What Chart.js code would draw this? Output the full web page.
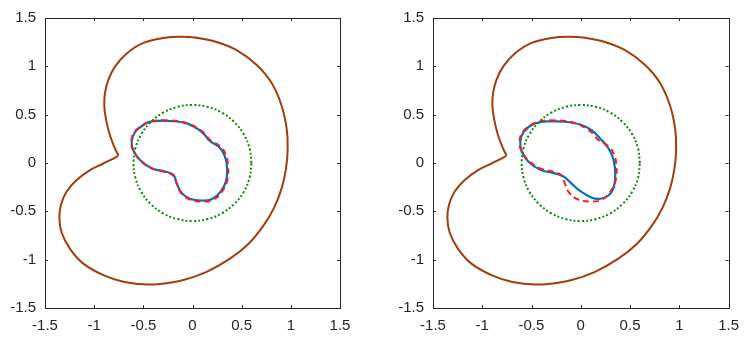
<!DOCTYPE html>
<html>
<head>
<meta charset="utf-8">
<script src="https://cdn.jsdelivr.net/npm/chart.js@4.4.1/dist/chart.umd.min.js"></script>
<style>
  html, body { margin: 0; padding: 0; background: #fff; }
  #wrap { position: relative; width: 748px; height: 349px; }
  canvas { position: absolute; top: 0; }
  #left { left: 0; }
  #right { left: 374px; }
</style>
</head>
<body>
<div id="wrap">
  <canvas id="left" width="374" height="349"></canvas>
  <canvas id="right" width="374" height="349"></canvas>
</div>
<script>
// tick values shared by both axes
const tickValues = [-1.5, -1, -0.5, 0, 0.5, 1, 1.5];

// outer kidney-shaped curve (same in both panels)
const outerCurve = [
  [-0.754, 0.08], [-0.788, 0.148], [-0.839, 0.284], [-0.88, 0.454], [-0.897, 0.59],
  [-0.89, 0.725], [-0.856, 0.861], [-0.788, 0.997], [-0.669, 1.133], [-0.5, 1.242],
  [-0.297, 1.293], [-0.127, 1.306], [0.042, 1.296], [0.246, 1.252], [0.449, 1.167],
  [0.653, 1.014], [0.805, 0.827], [0.907, 0.59], [0.958, 0.352], [0.968, 0.148],
  [0.951, -0.056], [0.907, -0.26], [0.829, -0.464], [0.72, -0.651], [0.568, -0.838],
  [0.381, -0.99], [0.144, -1.126], [-0.093, -1.211], [-0.331, -1.252], [-0.5, -1.255],
  [-0.703, -1.228], [-0.907, -1.16], [-1.11, -1.041], [-1.246, -0.888], [-1.331, -0.719],
  [-1.354, -0.566], [-1.337, -0.43], [-1.28, -0.294], [-1.178, -0.175], [-1.042, -0.073],
  [-0.907, -0.005], [-0.805, 0.046], [-0.764, 0.07], [-0.754, 0.08]
];

// dotted circle, radius 0.6
const circle = [
  [0.6, 0], [0.58, 0.155], [0.52, 0.3], [0.424, 0.424], [0.3, 0.52], [0.155, 0.58],
  [0, 0.6], [-0.155, 0.58], [-0.3, 0.52], [-0.424, 0.424], [-0.52, 0.3], [-0.58, 0.155],
  [-0.6, 0], [-0.58, -0.155], [-0.52, -0.3], [-0.424, -0.424], [-0.3, -0.52], [-0.155, -0.58],
  [0, -0.6], [0.155, -0.58], [0.3, -0.52], [0.424, -0.424], [0.52, -0.3], [0.58, -0.155], [0.6, 0]
];

// red dashed boundary (same in both panels)
const trueBoundary = [
  [-0.31, 0.442], [-0.18, 0.436], [-0.05, 0.41], [0.075, 0.345], [0.135, 0.292],
  [0.17, 0.245], [0.22, 0.212], [0.285, 0.17], [0.335, 0.095], [0.36, -0.01],
  [0.355, -0.17], [0.295, -0.305], [0.2, -0.385], [0.095, -0.398], [-0.025, -0.378],
  [-0.115, -0.312], [-0.162, -0.21], [-0.2, -0.126], [-0.285, -0.09], [-0.415, -0.055],
  [-0.535, 0.03], [-0.605, 0.135], [-0.622, 0.218], [-0.59, 0.32], [-0.485, 0.405],
  [-0.41, 0.433], [-0.31, 0.442]
];

// blue reconstruction, left panel
const leftRecon = [
  [-0.31, 0.438], [-0.178, 0.432], [-0.043, 0.405], [0.076, 0.336], [0.13, 0.285],
  [0.165, 0.237], [0.21, 0.205], [0.27, 0.165], [0.32, 0.09], [0.348, -0.01],
  [0.345, -0.17], [0.287, -0.297], [0.195, -0.374], [0.094, -0.388], [-0.025, -0.37],
  [-0.11, -0.309], [-0.161, -0.207], [-0.195, -0.122], [-0.28, -0.089], [-0.415, -0.054],
  [-0.534, 0.031], [-0.602, 0.133], [-0.619, 0.217], [-0.585, 0.319], [-0.483, 0.404],
  [-0.415, 0.431], [-0.31, 0.438]
];

// blue reconstruction, right panel
const rightRecon = [
  [-0.344, 0.431], [-0.175, 0.428], [-0.005, 0.398], [0.113, 0.336], [0.198, 0.252],
  [0.282, 0.15], [0.333, 0.031], [0.35, -0.122], [0.333, -0.258], [0.282, -0.336],
  [0.198, -0.37], [0.113, -0.36], [-0.005, -0.292], [-0.107, -0.2], [-0.175, -0.139],
  [-0.276, -0.105], [-0.411, -0.071], [-0.53, 0.013], [-0.598, 0.115], [-0.614, 0.217],
  [-0.581, 0.319], [-0.479, 0.404], [-0.344, 0.431]
];

const axisColor = '#262626';
const tickFont = { family: 'Liberation Sans, Arial, sans-serif', size: 15 };
const toPoints = arr => arr.map(p => ({ x: p[0], y: p[1] }));

// box around the plot area with inward ticks on all four sides
const boxPlugin = {
  id: 'box',
  beforeDatasetsDraw(chart) {
    const { ctx, chartArea: a, scales } = chart;
    ctx.save();
    ctx.strokeStyle = axisColor;
    ctx.lineWidth = 1;
    ctx.strokeRect(Math.round(a.left) + 0.5, Math.round(a.top) + 0.5,
      Math.round(a.right - a.left), Math.round(a.bottom - a.top));
    const tl = 3;
    ctx.beginPath();
    tickValues.forEach(v => {
      const x = Math.round(scales.x.getPixelForValue(v)) + 0.5;
      ctx.moveTo(x, a.bottom); ctx.lineTo(x, a.bottom - tl);
      ctx.moveTo(x, a.top); ctx.lineTo(x, a.top + tl);
      const y = Math.round(scales.y.getPixelForValue(v)) + 0.5;
      ctx.moveTo(a.left, y); ctx.lineTo(a.left + tl, y);
      ctx.moveTo(a.right, y); ctx.lineTo(a.right - tl, y);
    });
    ctx.stroke();
    ctx.restore();
  }
};

function makeChart(id, recon, yWidth, rightPad) {
  const axis = (fit) => ({
    type: 'linear',
    min: -1.5,
    max: 1.5,
    afterFit: fit,
    grid: { display: false, drawTicks: false },
    border: { display: false },
    ticks: {
      stepSize: 0.5,
      color: axisColor,
      padding: 9,
      maxRotation: 0,
      font: tickFont,
      callback: v => String(v),
    },
  });
  return new Chart(document.getElementById(id), {
    type: 'scatter',
    data: {
      datasets: [
        {
          data: toPoints(outerCurve),
          showLine: true, borderColor: '#a13d0b', borderWidth: 2,
          pointRadius: 0, tension: 0.35,
        },
        {
          data: toPoints(circle),
          showLine: true, borderColor: '#0a8a0a', borderWidth: 2,
          borderDash: [2, 2.2], pointRadius: 0, tension: 0.4,
        },
        {
          data: toPoints(trueBoundary),
          showLine: true, borderColor: '#ff1a1a', borderWidth: 2,
          borderDash: [6, 4], pointRadius: 0, tension: 0.4,
        },
        {
          data: toPoints(recon),
          showLine: true, borderColor: '#0072bd', borderWidth: 2.2,
          pointRadius: 0, tension: 0.4,
        },
      ],
    },
    options: {
      responsive: false,
      animation: false,
      layout: { padding: { top: 14, right: rightPad, left: 0, bottom: 0 } },
      plugins: { legend: { display: false }, tooltip: { enabled: false } },
      scales: {
        x: axis(scale => { scale.height = 41; }),
        y: axis(scale => { scale.width = yWidth; }),
      },
    },
    plugins: [boxPlugin],
  });
}

makeChart('left', leftRecon, 45, 34);
makeChart('right', rightRecon, 59, 19);
</script>
</body>
</html>
